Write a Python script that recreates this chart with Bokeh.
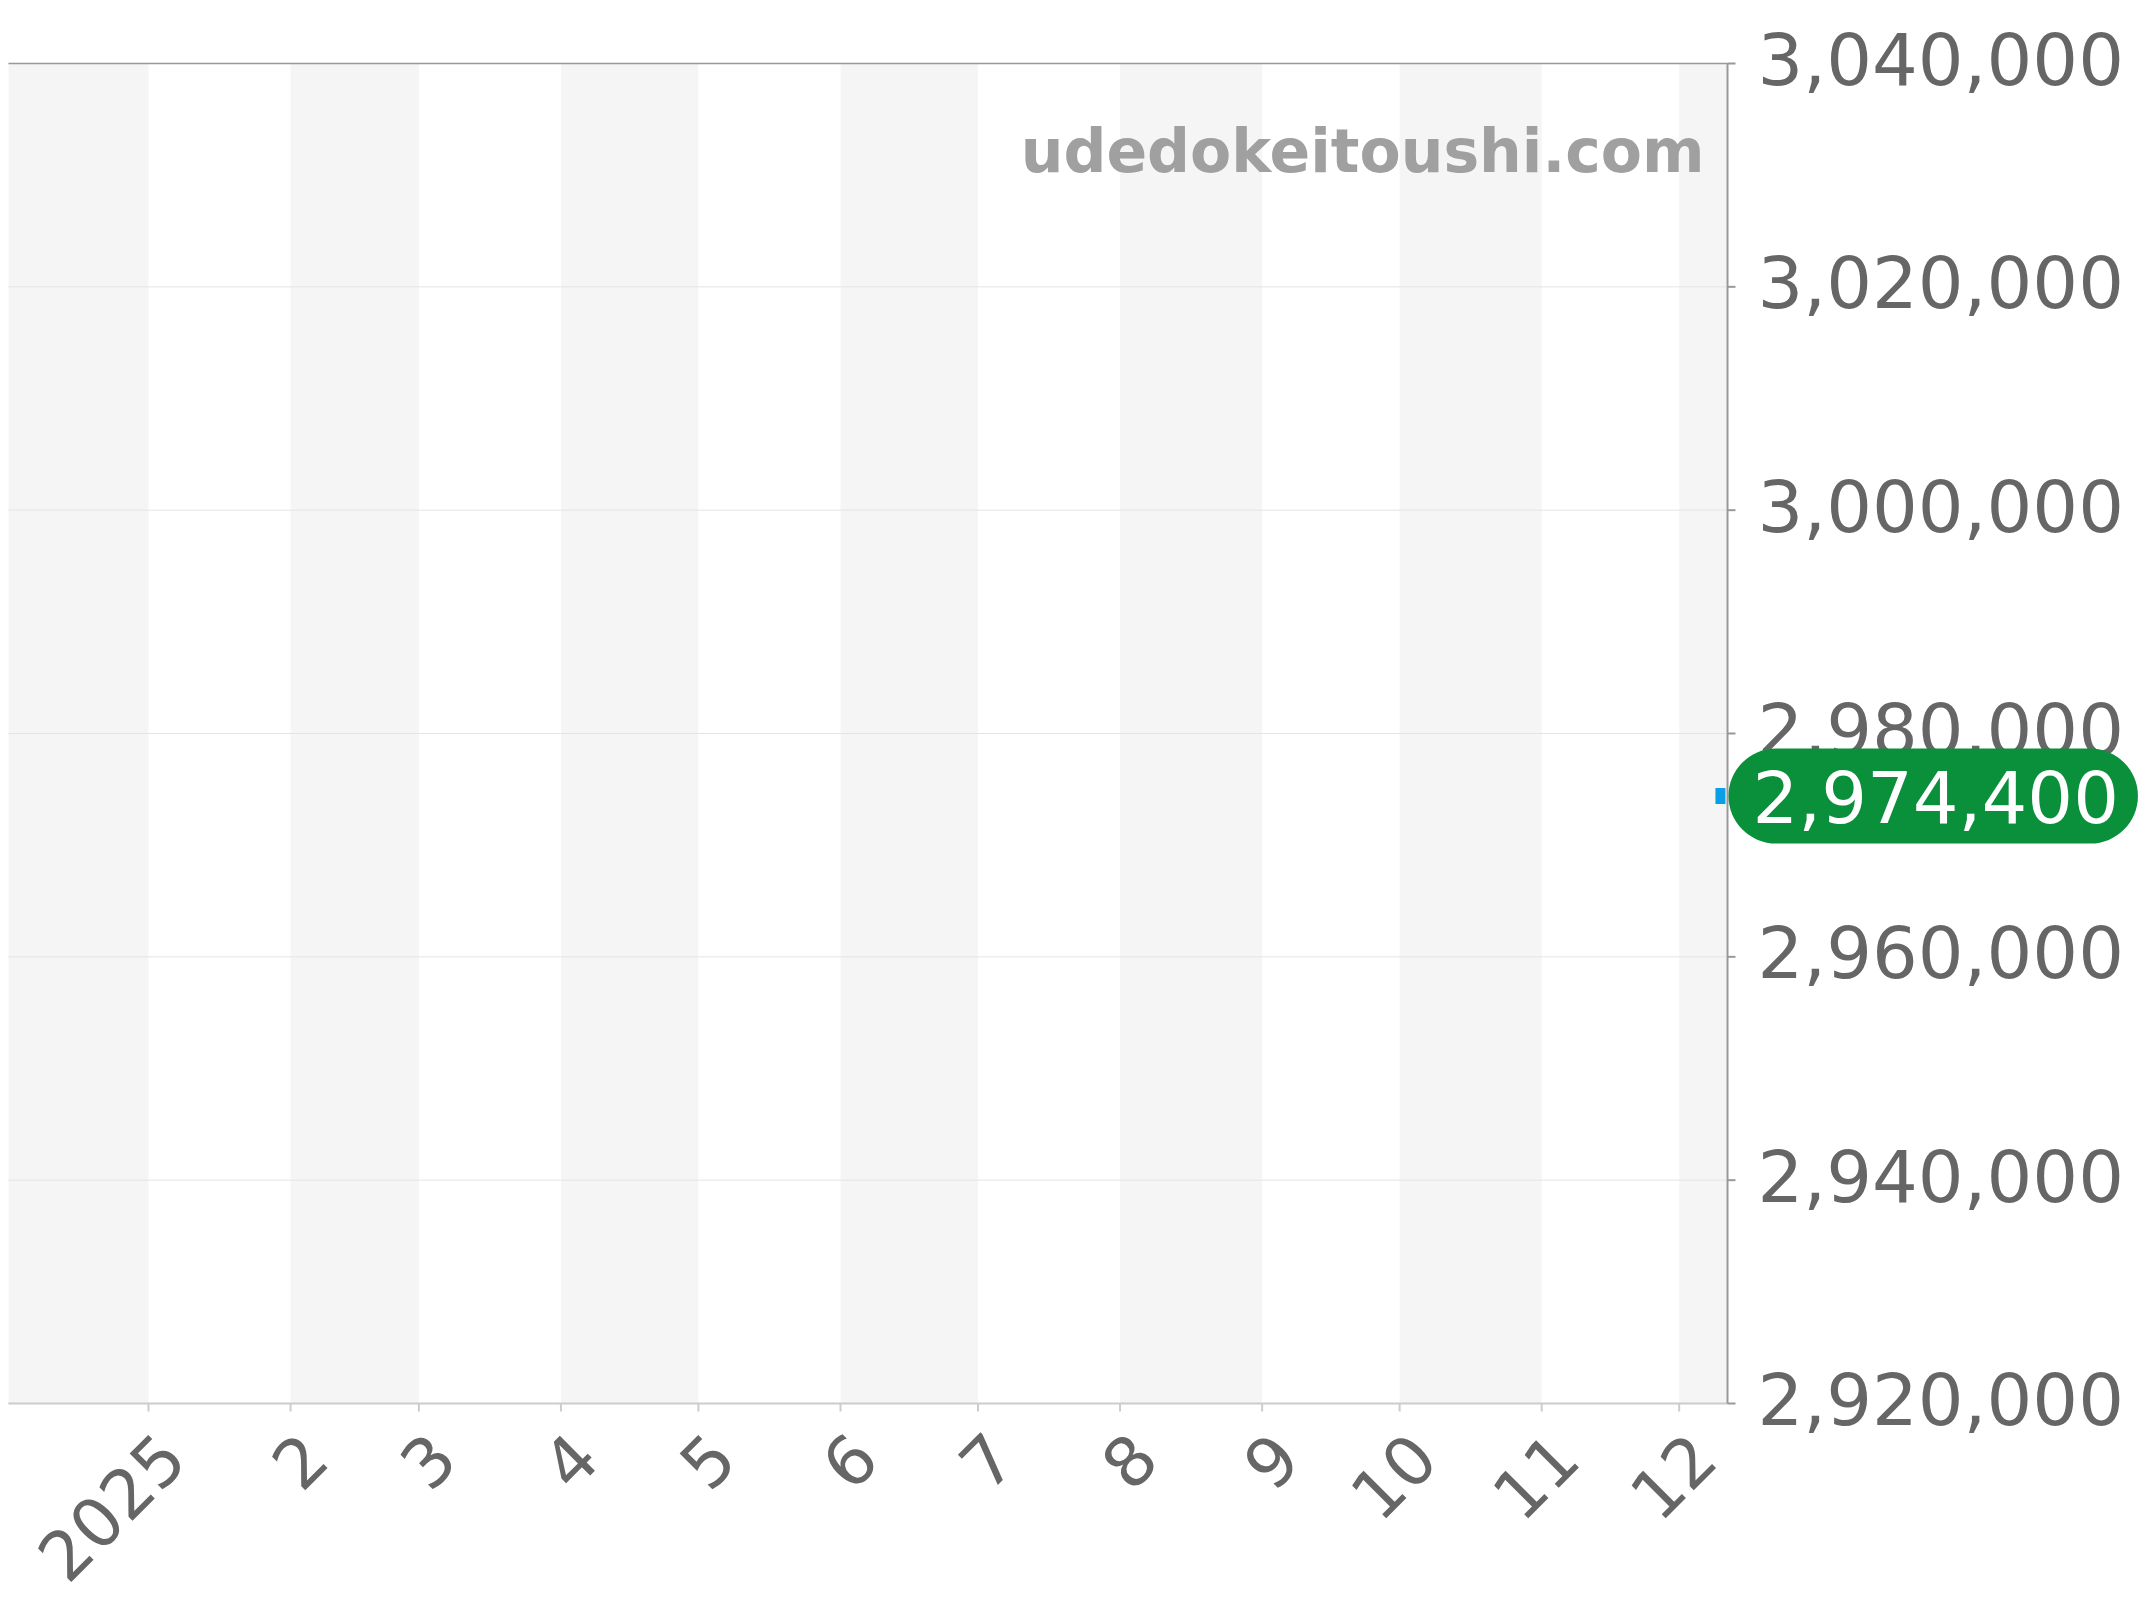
import math
import pandas as pd
from bokeh.core.properties import value
from bokeh.plotting import figure
from bokeh.models import Range1d, ColumnDataSource
from bokeh.embed import file_html
from bokeh.resources import INLINE

# price series (only one observation so far)
dates = ["2025-12-10"]
prices = [2974400]

# x axis: month ticks
month_starts = ["2025-01-01", "2025-02-01", "2025-03-01", "2025-04-01", "2025-05-01", "2025-06-01",
                "2025-07-01", "2025-08-01", "2025-09-01", "2025-10-01", "2025-11-01", "2025-12-01"]
month_labels = ["2025", "2", "3", "4", "5", "6", "7", "8", "9", "10", "11", "12"]

# shaded month bands (every other month)
band_starts = ["2024-12-01", "2025-02-01", "2025-04-01", "2025-06-01", "2025-08-01", "2025-10-01", "2025-12-01"]
band_ends = ["2025-01-01", "2025-03-01", "2025-05-01", "2025-07-01", "2025-09-01", "2025-11-01", "2026-01-01"]

# y axis
y_ticks = [2920000, 2940000, 2960000, 2980000, 3000000, 3020000, 3040000]
x_start = "2024-12-01 11:00"
x_end = "2025-12-11 13:00"

watermark = "udedokeitoushi.com"


def ms(s):
    return pd.Timestamp(s).value / 1e6


FONT = "DejaVu Sans"
GREY_TXT = "#666666"

# canvas and plot box (px); the frame covers the whole canvas so that
# axis texts and the price badge are drawn as glyphs
W, H = 2140, 1598
PL, PR, PT, PB = 8, 1727, 63, 1403

x0, x1 = ms(x_start), ms(x_end)
y0, y1 = y_ticks[0], y_ticks[-1]
mpp = (x1 - x0) / (PR - PL)
upp = (y1 - y0) / (PB - PT)

p = figure(width=W, height=H, min_border=0,
           x_axis_location=None, y_axis_location=None,
           x_range=Range1d(x0 - PL * mpp, x1 + (W - PR) * mpp),
           y_range=Range1d(y0 - (H - PB) * upp, y1 + PT * upp),
           output_backend="svg", toolbar_location=None)
p.background_fill_color = "white"
p.border_fill_color = "white"
p.outline_line_color = None
p.grid.visible = False

# alternating month bands
bands = ColumnDataSource(dict(
    left=[max(ms(s), x0) for s in band_starts],
    right=[min(ms(e), x1) for e in band_ends],
))
p.quad(left="left", right="right", bottom=y0, top=y1, source=bands,
       fill_color="#f5f5f5", line_color=None)

# horizontal grid
p.segment(x0=x0, x1=x1, y0=y_ticks, y1=y_ticks, line_color="#e4e4e4", line_width=1)

# frame lines: top, bottom axis, right axis
p.segment(x0=x0, x1=x1, y0=y1, y1=y1, line_color="#999999", line_width=1.5)
p.segment(x0=x0, x1=x1, y0=y0, y1=y0, line_color="#cccccc", line_width=2)
p.segment(x0=x1, x1=x1, y0=y0, y1=y1, line_color="#999999", line_width=2)

# ticks
tick_x = [ms(m) for m in month_starts]
p.ray(x=tick_x, y=y0, length=8, length_units="screen", angle=-math.pi / 2,
      line_color="#cccccc", line_width=2)
p.ray(x=x1, y=y_ticks, length=8, length_units="screen", angle=0,
      line_color="#999999", line_width=2)

# x labels (rotated)
p.text(x=tick_x, y=y0, text=month_labels, angle=math.pi / 4,
       x_offset=24, y_offset=42, text_align="right", text_baseline="alphabetic",
       text_font=value(FONT), text_font_size="68px", text_color=GREY_TXT)

# y labels (right side)
p.text(x=x1, y=y_ticks, text=[f"{v:,}" for v in y_ticks],
       x_offset=30, y_offset=-5, text_align="left", text_baseline="alphabetic",
       text_font=value(FONT), text_font_size="72px", text_color=GREY_TXT)

# watermark
p.text(x=x1, y=y1, text=[watermark], x_offset=-23, y_offset=87,
       text_align="right", text_baseline="alphabetic",
       text_font=value(FONT), text_font_style="bold", text_font_size="60px",
       text_color="#a0a0a0")

# data
src = ColumnDataSource(dict(x=[ms(d) for d in dates], y=prices))
p.rect(x="x", y="y", width=10, height=16, width_units="screen", height_units="screen",
       source=src, fill_color="#0a9ee8", line_color=None)

# last price badge
p.text(x=x1, y=prices[-1:], text=[f"{prices[-1]:,}"], x_offset=1,
       text_align="left", text_baseline="middle",
       text_font=value(FONT), text_font_size="72px", text_color="white",
       background_fill_color="#0a8f3a", border_radius=48,
       padding=dict(left=24, right=19, top=21, bottom=21))

open("out.html", "w").write(file_html(p, INLINE))
